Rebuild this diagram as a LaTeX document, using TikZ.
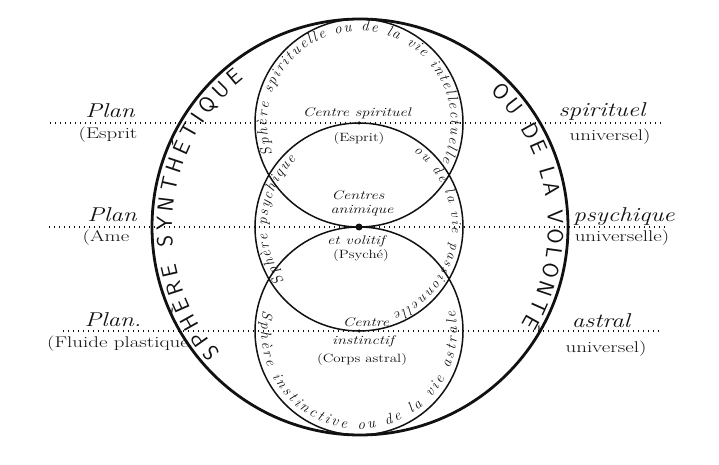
\documentclass[tikz,border=0pt]{standalone}
\usetikzlibrary{calc,decorations.text}
\definecolor{encre}{HTML}{111111}

\begin{document}
\begin{tikzpicture}[x=1pt,y=1pt]
  \tikzset{
    sphere/.style={draw=encre,line width=1.5pt},
    synth/.style={draw=encre,line width=2.8pt},
    plan/.style={draw=encre,line width=1.2pt,dash pattern=on 1.4pt off 3.6pt},
    titre/.style={font=\fontsize{20}{20}\selectfont\itshape,xscale=1.25,anchor=base,text=encre},
    sous/.style={font=\fontsize{15.5}{15.5}\selectfont,xscale=1.35,text=encre},
    centre/.style={font=\fontsize{12.5}{12.5}\selectfont\itshape,xscale=1.3,text=encre},
    petit/.style={font=\fontsize{12}{12}\selectfont,xscale=1.25,text=encre},
    point/.style={circle,fill=encre,inner sep=0pt,minimum size=#1},
    courbe/.style={decorate,decoration={text along path,text align={fit to path},text color=encre,text={#1}}}
  }
  \useasboundingbox (0,0) rectangle (719,464);
  \coordinate (o) at (360,237);
  \coordinate (csp) at (359,341);
  \coordinate (cps) at (359,237);
  \coordinate (cas) at (359,133);
  \draw[synth] (o) circle[radius=208];
  \draw[sphere] (csp) circle[radius=104];
  \draw[sphere] (cps) circle[radius=104];
  \draw[sphere] (cas) circle[radius=104];
  \path[courbe={|\sffamily\fontsize{22}{22}\selectfont|SPHÈRE SYNTHÉTIQUE}] ($(o)+(222:188)$) arc[start angle=222,end angle=128,radius=188];
  \path[courbe={|\sffamily\fontsize{22}{22}\selectfont|OU DE LA VOLONTÉ}] ($(o)+(46:188)$) arc[start angle=46,end angle=-31,radius=188];
  \path[courbe={|\fontsize{15}{15}\selectfont\itshape|Sphère spirituelle ou de la vie intellectuelle}] ($(csp)+(200:92)$) arc[start angle=200,end angle=-25,radius=92];
  \path[courbe={|\fontsize{15}{15}\selectfont\itshape|Sphère psychique}] ($(cps)+(216:92)$) arc[start angle=216,end angle=133,radius=92];
  \path[courbe={|\fontsize{14}{14}\selectfont\itshape|ou de la vie passionnelle}] ($(cps)+(54:93)$) arc[start angle=54,end angle=-68,radius=93];
  \path[courbe={|\fontsize{15}{15}\selectfont\itshape|Sphère instinctive ou de la vie astrale}] ($(cas)+(168:98)$) arc[start angle=168,end angle=372,radius=98];
  \coordinate (g1) at (50,341);
  \coordinate (d1) at (664,341);
  \coordinate (g2) at (49,237);
  \coordinate (d2) at (668,237);
  \coordinate (g3) at (63,133);
  \coordinate (d3) at (662,133);
  \draw[plan] (g1) -- (d1);
  \draw[plan] (g2) -- (d2);
  \draw[plan] (g3) -- (d3);
  \node[point=3.5pt] (pspirituel) at (csp) {};
  \node[point=7pt] (panimique) at (cps) {};
  \node[point=3.5pt] (pinstinctif) at (cas) {};
  \node[titre] (plan1) at (110,346) {Plan};
  \node[sous] (esprit) at (108,329) {(Esprit};
  \node[titre] (plan2) at (112,243) {Plan};
  \node[sous] (ame) at (106,226) {(Ame};
  \node[titre] (plan3) at (113,138) {Plan.};
  \node[sous] (fluide) at (118,120) {(Fluide plastique};
  \node[titre] (spirituel) at (602,347) {spirituel};
  \node[sous] (univ1) at (610,327) {universel)};
  \node[titre] (psychique) at (624,243) {psychique};
  \node[sous] (univ2) at (622,226) {universelle)};
  \node[titre] (astral) at (601,137) {astral};
  \node[sous] (univ3) at (606,115) {universel)};
  \node[centre,anchor=base] (tspirituel) at (357,347) {Centre spirituel};
  \node[petit] (tesprit) at (359,325) {(Esprit)};
  \node[centre] (tcentres) at (358,269) {Centres};
  \node[centre] (tanimique) at (362,253) {animique};
  \node[centre] (tvolitif) at (356,223) {et volitif};
  \node[petit] (tpsyche) at (361,208) {(Psyché)};
  \node[centre] (tcentre) at (366,142) {Centre};
  \node[centre] (tinstinctif) at (363,123) {instinctif};
  \node[petit] (tcorps) at (362,104) {(Corps astral)};
\end{tikzpicture}
\end{document}
